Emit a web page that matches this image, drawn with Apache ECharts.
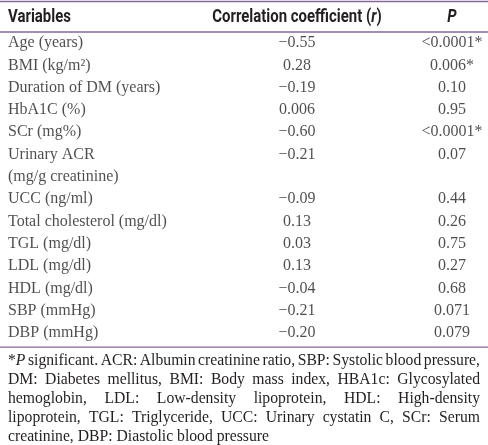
<!DOCTYPE html>
<html><head><meta charset="utf-8">
<script src="https://cdn.jsdelivr.net/npm/echarts@6/dist/echarts.min.js"></script>
<style>html,body{margin:0;padding:0;background:#fff}#c{width:488px;height:445px}</style>
</head><body><div id="c"></div>
<script>
// ---- data ----
const headers = ["Variables", "Correlation coefficient (r)", "P"];
const variables = ["Age (years)", "BMI (kg/m²)", "Duration of DM (years)", "HbA1C (%)", "SCr (mg%)",
  "Urinary ACR\n(mg/g creatinine)", "UCC (ng/ml)", "Total cholesterol (mg/dl)", "TGL (mg/dl)",
  "LDL (mg/dl)", "HDL (mg/dl)", "SBP (mmHg)", "DBP (mmHg)"];
const rValues = ["−0.55", "0.28", "−0.19", "0.006", "−0.60", "−0.21", "−0.09", "0.13", "0.03", "0.13", "−0.04", "−0.21", "−0.20"];
const pValues = ["<0.0001*", "0.006*", "0.10", "0.95", "<0.0001*", "0.07", "0.44", "0.26", "0.75", "0.27", "0.68", "0.071", "0.079"];
const footnoteLines = [
  "*_P_ significant. ACR: Albumin creatinine ratio, SBP: Systolic blood pressure,",
  "DM: Diabetes mellitus, BMI: Body mass index, HBA1c: Glycosylated",
  "hemoglobin, LDL: Low-density lipoprotein, HDL: High-density",
  "lipoprotein, TGL: Triglyceride, UCC: Urinary cystatin C, SCr: Serum",
  "creatinine, DBP: Diastolic blood pressure"
];

// ---- layout ----
const W = 488, H = 445;
const padL = 8, padR = 480;
const colX = [padL, 297, 452];
const rowH = 22.3, firstRowY = 43;
const serif = "'Liberation Serif', 'Times New Roman', serif";
const headFont = "Roboto, 'Liberation Sans', sans-serif";
const headScale = 0.83;
const textColor = "#231f20";
const ruleColor = "#85679c";
const bodySize = 16, footSize = 15.7, footLineH = 19;

// slots (one per text line)
const slots = [];
const nameData = [], rData = [], pData = [];
variables.forEach((v, i) => {
  const lines = v.split("\n");
  const first = slots.length;
  lines.forEach((ln) => { const s = slots.length; slots.push(String(s)); nameData.push([colX[0], String(s), ln]); });
  rData.push([colX[1], String(first), rValues[i]]);
  pData.push([colX[2], String(first), pValues[i]]);
});
const gridTop = firstRowY - rowH / 2;
const gridBottomY = gridTop + slots.length * rowH;
const bottomRuleY = gridBottomY + 3;
const footStartY = bottomRuleY + 14;

function textSeries(data, pos) {
  return {
    type: "scatter", symbolSize: 0, data: data, silent: true,
    label: {
      show: true, position: pos, distance: 0,
      formatter: (p) => p.value[2],
      color: textColor, fontFamily: serif, fontSize: bodySize
    }
  };
}

// footnote justification
const measureCtx = document.createElement("canvas").getContext("2d");
function segWidth(seg) {
  measureCtx.font = (seg.i ? "italic " : "") + footSize + "px " + serif;
  return measureCtx.measureText(seg.t).width;
}
function parseWord(w) {
  const segs = [];
  w.split(/(_[^_]+_)/).forEach((p) => {
    if (!p) return;
    if (p.startsWith("_") && p.endsWith("_")) segs.push({ t: p.slice(1, -1), i: true });
    else segs.push({ t: p, i: false });
  });
  return segs;
}
const graphics = [];
footnoteLines.forEach((line, li) => {
  const words = line.split(" ").map(parseWord);
  const widths = words.map((ws) => ws.reduce((a, s) => a + segWidth(s), 0));
  const sum = widths.reduce((a, b) => a + b, 0);
  const last = li === footnoteLines.length - 1;
  measureCtx.font = footSize + "px " + serif;
  const spaceW = measureCtx.measureText(" ").width;
  const gap = last ? spaceW : (padR - padL - sum) / (words.length - 1);
  let x = padL;
  const y = footStartY + li * footLineH;
  words.forEach((ws, wi) => {
    let sx = x;
    ws.forEach((s) => {
      graphics.push({
        type: "text", x: sx, y: y, silent: true,
        style: { text: s.t, fill: textColor, fontFamily: serif, fontSize: footSize,
          fontStyle: s.i ? "italic" : "normal", verticalAlign: "middle", align: "left" }
      });
      sx += segWidth(s);
    });
    x += widths[wi] + gap;
  });
});

// header
const headerY = 17;
const hStyle = { fontFamily: headFont, fontSize: 18, fontWeight: "bold", fill: textColor };
graphics.push({ type: "text", x: colX[0], y: headerY, scaleX: headScale, silent: true,
  style: Object.assign({ text: headers[0], verticalAlign: "middle", align: "left" }, hStyle) });
const hParts = headers[1].match(/^(.*\()(.)(\))$/);
graphics.push({ type: "text", x: colX[1], y: headerY, scaleX: headScale, silent: true,
  style: { text: "{b|" + hParts[1] + "}{bi|" + hParts[2] + "}{b|" + hParts[3] + "}",
    rich: { b: Object.assign({}, hStyle), bi: Object.assign({ fontStyle: "italic" }, hStyle) },
    verticalAlign: "middle", align: "center" } });
graphics.push({ type: "text", x: colX[2], y: headerY, scaleX: headScale, silent: true,
  style: Object.assign({ text: headers[2], fontStyle: "italic", verticalAlign: "middle", align: "center" }, hStyle) });

// rules
[1.5, 32, bottomRuleY].forEach((y) => {
  graphics.push({ type: "line", silent: true, shape: { x1: 0, y1: y, x2: W, y2: y }, style: { stroke: ruleColor, lineWidth: 1.3 } });
});

const chart = echarts.init(document.getElementById("c"), null, { renderer: "canvas" });
chart.setOption({
  animation: false,
  backgroundColor: "#ffffff",
  grid: { left: 0, right: 0, top: gridTop, height: slots.length * rowH },
  xAxis: { type: "value", min: 0, max: W, show: false },
  yAxis: { type: "category", data: slots, inverse: true, show: false },
  series: [textSeries(nameData, "right"), textSeries(rData, "inside"), textSeries(pData, "inside")],
  graphic: graphics
});
</script></body></html>
